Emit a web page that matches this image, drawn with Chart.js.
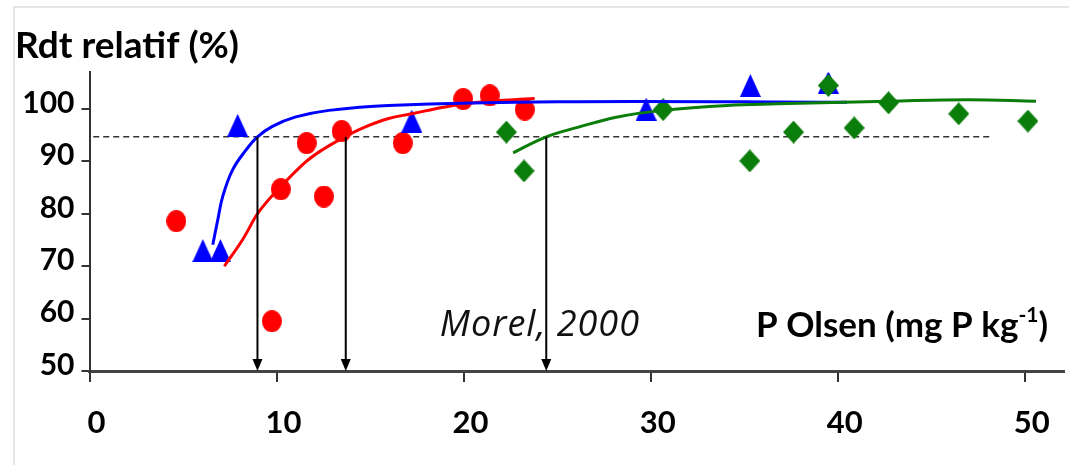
<!DOCTYPE html>
<html>
<head>
<meta charset="utf-8">
<script src="https://cdn.jsdelivr.net/npm/chart.js@4/dist/chart.umd.min.js"></script>
<style>
  html, body { margin: 0; padding: 0; background: #fff; }
  #wrap { position: relative; width: 1069px; height: 465px; }
  #frame { position: absolute; left: 13px; top: 6px; right: 0; bottom: 0;
           border-left: 2px solid #e6e6e6; border-top: 2px solid #e6e6e6; }
  canvas { position: absolute; left: 0; top: 0; }
</style>
</head>
<body>
<div id="wrap">
  <div id="frame"></div>
  <canvas id="chart" width="1069" height="465"></canvas>
</div>
<script>
const redX = [4.64, 9.75, 10.23, 11.61, 12.53, 13.48, 16.75, 19.98, 21.4, 23.27];
const redY = [78.6, 59.5, 84.7, 93.5, 83.3, 95.8, 93.5, 101.9, 102.6, 99.9];
const blueX = [6.06, 7.0, 7.92, 17.23, 29.76, 35.33, 39.5];
const blueY = [73.0, 73.0, 96.9, 97.7, 100.0, 104.5, 105.1];
const greenX = [22.29, 23.23, 30.67, 35.3, 37.64, 39.5, 40.88, 42.72, 46.47, 50.17];
const greenY = [95.6, 88.2, 99.9, 90.1, 95.6, 104.5, 96.4, 101.2, 99.1, 97.7];

// fitted response curves
const redFitX = [7.21, 8.19, 9.07, 10.23, 11.56, 12.44, 13.65, 14.75, 15.99, 17.23, 19.0, 20.78, 23.8];
const redFitY = [70.0, 75.1, 80.45, 85.2, 89.9, 92.2, 94.7, 96.6, 98.2, 99.1, 100.4, 101.3, 102.0];
const blueFitX = [6.59, 6.86, 7.12, 7.65, 8.37, 8.98, 9.78, 11.03, 12.8, 15.99, 25.1, 40.5];
const blueFitY = [74.1, 78.9, 83.3, 88.4, 92.2, 94.7, 96.7, 98.5, 99.75, 100.7, 101.4, 101.3];
const greenFitX = [22.65, 24.42, 26.1, 28.23, 30.67, 34.1, 36.75, 42.7, 47.0, 50.6];
const greenFitY = [91.65, 94.7, 96.5, 98.5, 99.75, 100.7, 101.0, 101.5, 101.8, 101.5];

// 95 % threshold line and critical values
const thresholdY = 94.7;
const thresholdX = [0.2, 48.2];
const criticalX = [8.98, 13.7, 24.42];

const xTicks = [0, 10, 20, 30, 40, 50];
const yTicks = [50, 60, 70, 80, 90, 100];

const SANS = "Lato, 'Liberation Sans', sans-serif";

const toPoints = (xs, ys) => xs.map((x, i) => ({ x, y: ys[i] }));

// markers in the figure are slightly taller than wide, so draw them on small canvases
function marker(kind, w, h, color) {
  const c = document.createElement('canvas');
  c.width = w; c.height = h;
  const g = c.getContext('2d');
  g.fillStyle = color;
  g.beginPath();
  if (kind === 'ellipse') {
    g.ellipse(w / 2, h / 2, w / 2, h / 2, 0, 0, Math.PI * 2);
  } else if (kind === 'triangle') {
    g.moveTo(w / 2, 0); g.lineTo(w, h); g.lineTo(0, h);
  } else {
    g.moveTo(w / 2, 0); g.lineTo(w, h / 2); g.lineTo(w / 2, h); g.lineTo(0, h / 2);
  }
  g.closePath();
  g.fill();
  return c;
}

const arrowsAndNotes = {
  id: 'arrowsAndNotes',
  afterDatasetsDraw(chart) {
    const { ctx, scales: { x, y } } = chart;
    const top = y.getPixelForValue(thresholdY);
    const bottom = y.getPixelForValue(y.min);
    ctx.save();
    ctx.strokeStyle = '#000';
    ctx.fillStyle = '#000';
    ctx.lineWidth = 2;
    criticalX.forEach(v => {
      const px = x.getPixelForValue(v);
      ctx.beginPath();
      ctx.moveTo(px, top);
      ctx.lineTo(px, bottom - 10);
      ctx.stroke();
      ctx.beginPath();
      ctx.moveTo(px - 5, bottom - 12);
      ctx.lineTo(px + 5, bottom - 12);
      ctx.lineTo(px, bottom);
      ctx.closePath();
      ctx.fill();
    });

    ctx.textBaseline = 'alphabetic';
    ctx.font = "italic 36px 'Open Sans', sans-serif";
    ctx.letterSpacing = '1px';
    ctx.textAlign = 'right';
    ctx.fillStyle = '#111';
    ctx.fillText('Morel, 2000', 640, 336);
    ctx.letterSpacing = '0px';

    // axis title with superscript
    ctx.fillStyle = '#000';
    ctx.textAlign = 'left';
    const main = 'P Olsen (mg P kg';
    const sup = '-1';
    const close = ')';
    const fMain = `bold 35px ${SANS}`;
    const fSup = `bold 21px ${SANS}`;
    ctx.font = fMain;
    const wMain = ctx.measureText(main).width;
    const wClose = ctx.measureText(close).width;
    ctx.font = fSup;
    const wSup = ctx.measureText(sup).width;
    let sx = 1048 - wMain - wSup - wClose;
    ctx.font = fMain;
    ctx.fillText(main, sx, 337);
    sx += wMain;
    ctx.font = fSup;
    ctx.fillText(sup, sx, 322);
    sx += wSup;
    ctx.font = fMain;
    ctx.fillText(close, sx, 337);
    ctx.restore();
  }
};

const red = '#ff0000';
const blue = '#0000ff';
const green = '#0a7d0a';

new Chart(document.getElementById('chart'), {
  type: 'scatter',
  data: {
    datasets: [
      { data: toPoints(greenX, greenY), pointStyle: marker('diamond', 21, 23, green), order: 4 },
      { data: toPoints(blueX, blueY), pointStyle: marker('triangle', 21, 23, blue), order: 5 },
      { data: toPoints(redX, redY), pointStyle: marker('ellipse', 20, 22, red), order: 6 },
      { type: 'line', data: toPoints(redFitX, redFitY), borderColor: red, borderWidth: 3,
        pointRadius: 0, tension: 0.4, order: 3 },
      { type: 'line', data: toPoints(blueFitX, blueFitY), borderColor: blue, borderWidth: 3,
        pointRadius: 0, tension: 0.4, order: 2 },
      { type: 'line', data: toPoints(greenFitX, greenFitY), borderColor: green, borderWidth: 3,
        pointRadius: 0, tension: 0.4, order: 1 },
      { type: 'line', data: thresholdX.map(x => ({ x, y: thresholdY })), borderColor: '#333',
        borderWidth: 1.5, borderDash: [6, 4], pointRadius: 0, order: 7 },
    ],
  },
  options: {
    responsive: false,
    animation: false,
    layout: { padding: { left: 15, right: -6, top: 0, bottom: 0 } },
    scales: {
      x: {
        type: 'linear', min: 0, max: 52.1,
        afterBuildTicks: s => { s.ticks = xTicks.map(value => ({ value })); },
        afterFit: s => { s.height = 94; },
        grid: { drawOnChartArea: false, tickLength: 11, color: '#333', lineWidth: 2 },
        border: { color: '#444', width: 3 },
        ticks: { color: '#000', padding: 22, labelOffset: 7, font: { family: SANS, size: 31, weight: 'bold' } },
      },
      y: {
        type: 'linear', min: 50, max: 107,
        afterBuildTicks: s => { s.ticks = yTicks.map(value => ({ value })); },
        afterFit: s => { s.width = 74.5; },
        grid: { drawOnChartArea: false, tickLength: 8, color: '#333', lineWidth: 2 },
        border: { color: '#333', width: 2 },
        ticks: { color: '#000', padding: 7, labelOffset: -6, font: { family: SANS, size: 30, weight: 'bold' } },
      },
    },
    plugins: {
      legend: { display: false },
      tooltip: { enabled: false },
      title: {
        display: true, text: 'Rdt relatif (%)', align: 'start', color: '#000',
        font: { family: SANS, size: 37, weight: 'bold', lineHeight: 1.2 },
        padding: { top: 24, bottom: 4 },
      },
    },
  },
  plugins: [arrowsAndNotes],
});
</script>
</body>
</html>
